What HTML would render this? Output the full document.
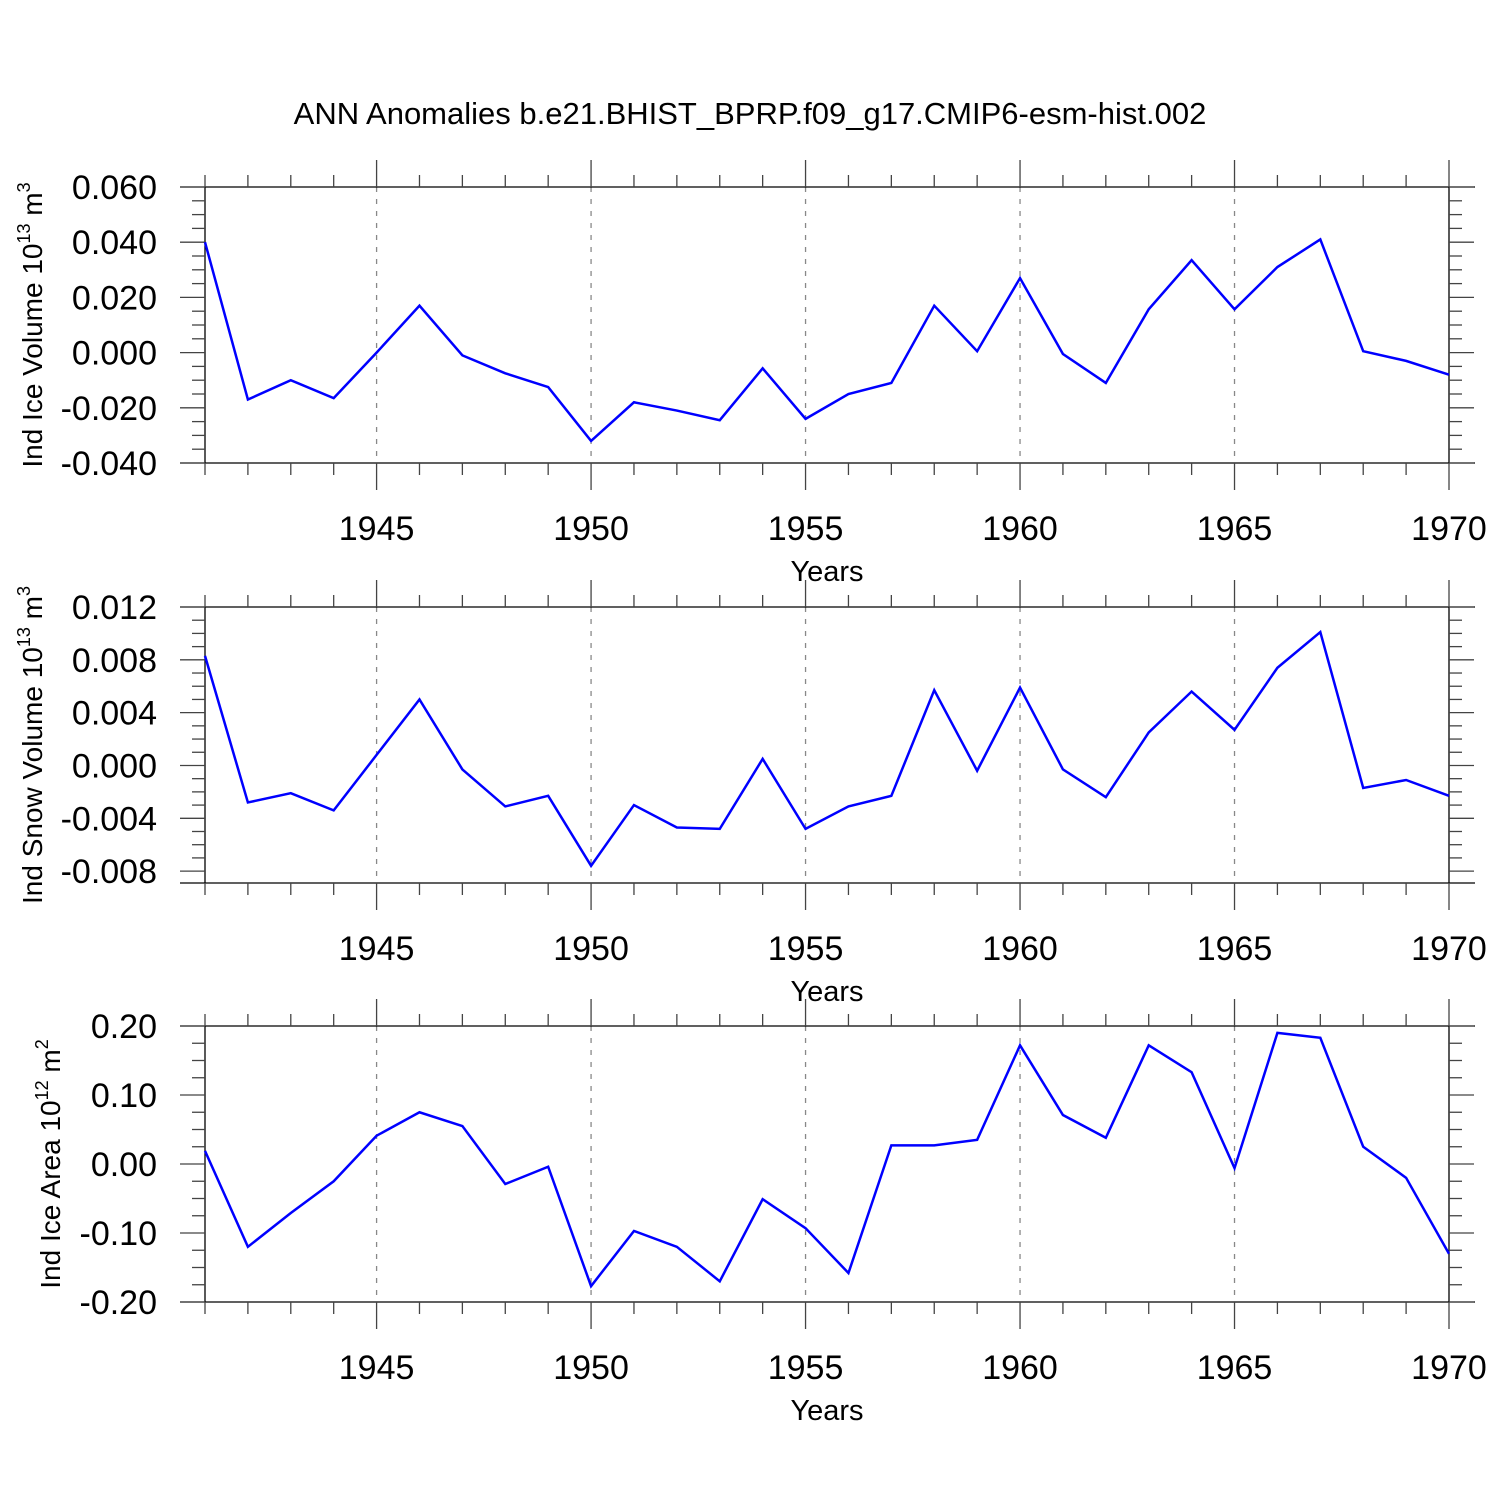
<!DOCTYPE html>
<html><head><meta charset="utf-8"><style>
body{margin:0;background:#fff}
svg{display:block;font-family:"Liberation Sans",sans-serif}
</style></head><body>
<svg id="c" width="1500" height="1500" viewBox="0 0 1500 1500">
<text x="750" y="124" text-anchor="middle" font-size="31">ANN Anomalies b.e21.BHIST_BPRP.f09_g17.CMIP6-esm-hist.002</text>
</svg>
<script>
const years=[];for(let y=1941;y<=1970;y++)years.push(y);
const iceVol=[0.040,-0.017,-0.010,-0.0165,0.000,0.017,-0.001,-0.0075,-0.0125,-0.032,-0.018,-0.021,-0.0245,-0.0057,-0.024,-0.015,-0.011,0.017,0.0005,0.027,-0.0005,-0.011,0.0157,0.0335,0.0157,0.031,0.041,0.0005,-0.003,-0.008];
const snowVol=[0.0083,-0.0028,-0.0021,-0.0034,0.0008,0.005,-0.0003,-0.0031,-0.0023,-0.0076,-0.003,-0.0047,-0.0048,0.0005,-0.0048,-0.0031,-0.0023,0.0057,-0.0004,0.0059,-0.0003,-0.0024,0.0025,0.0056,0.0027,0.0074,0.0101,-0.0017,-0.0011,-0.0023];
const iceArea=[0.019,-0.12,-0.071,-0.025,0.041,0.075,0.055,-0.029,-0.004,-0.177,-0.097,-0.12,-0.17,-0.051,-0.093,-0.158,0.027,0.027,0.035,0.172,0.071,0.038,0.172,0.133,-0.006,0.19,0.183,0.025,-0.02,-0.13];
const xTickYears=[1945,1950,1955,1960,1965,1970];
const ticks1=["0.060","0.040","0.020","0.000","-0.020","-0.040"];
const ticks2=["0.012","0.008","0.004","0.000","-0.004","-0.008"];
const ticks3=["0.20","0.10","0.00","-0.10","-0.20"];
const NS="http://www.w3.org/2000/svg",svg=document.getElementById('c');
function mk(t,a,p){const e=document.createElementNS(NS,t);for(const k in a)e.setAttribute(k,a[k]);(p||svg).appendChild(e);return e;}
const X0=205,X1=1449,L=180,R=1475;
const xs=y=>X0+(y-1941)*(X1-X0)/29;
function panel(top,bot,ymax,ymin,major,minor,labels,data,title,exp,unit,name,tx){
  const g=mk('g',{});
  
  
  const ys=v=>top+(ymax-v)*(bot-top)/(ymax-ymin);
  xTickYears.slice(0,5).forEach(yr=>{const l=mk('line',{x1:xs(yr),x2:xs(yr),y1:top,y2:bot,stroke:'#888','stroke-width':1.3,'stroke-dasharray':'5,7'},g);
    });
  const ax={stroke:'#000','stroke-width':1.3};
  mk('line',{x1:L,x2:R,y1:top,y2:top,...ax},g);mk('line',{x1:L,x2:R,y1:bot,y2:bot,...ax},g);
  mk('line',{x1:X0,x2:X0,y1:top,y2:bot,...ax},g);mk('line',{x1:X1,x2:X1,y1:top,y2:bot,...ax},g);
  years.forEach(yr=>{const mj=yr%5==0,len=mj?27:12,x=xs(yr);
    mk('line',{x1:x,x2:x,y1:top,y2:top-len,stroke:'#444','stroke-width':1.3},g);
    mk('line',{x1:x,x2:x,y1:bot,y2:bot+len,stroke:'#444','stroke-width':1.3},g);});
  const n=Math.floor((ymax-ymin)/minor+1e-6);
  for(let i=0;i<=n;i++){const v=ymax-i*minor;const y=ys(v);if(y>bot+0.5)continue;const r=Math.abs(v/major-Math.round(v/major))<1e-6;const len=r?25:13;
    mk('line',{x1:X0,x2:X0-len,y1:y,y2:y,stroke:'#444','stroke-width':1.3},g);
    mk('line',{x1:X1,x2:X1+len,y1:y,y2:y,stroke:'#444','stroke-width':1.3},g);}
  labels.forEach(s=>{const t=mk('text',{x:157,y:ys(parseFloat(s))+12,'text-anchor':'end','font-size':34},g);t.textContent=s;
    });
  xTickYears.forEach(yr=>{const t=mk('text',{x:xs(yr),y:bot+77,'text-anchor':'middle','font-size':34},g);t.textContent=yr;
    });
  const xt=mk('text',{x:827,y:bot+118,'text-anchor':'middle','font-size':29},g);xt.textContent='Years';
  
  const cy=(top+bot)/2;
  const yt=mk('text',{x:0,y:0,'text-anchor':'middle','font-size':28,transform:`translate(${tx},${cy}) rotate(-90)`},g);
  
  const t1=document.createElementNS(NS,'tspan');t1.textContent=title+' 10';yt.appendChild(t1);
  const t2=document.createElementNS(NS,'tspan');t2.setAttribute('font-size','18');t2.setAttribute('dy','-12');t2.textContent=exp;yt.appendChild(t2);
  const t3=document.createElementNS(NS,'tspan');t3.setAttribute('dy','12');t3.textContent=' m';yt.appendChild(t3);
  const t4=document.createElementNS(NS,'tspan');t4.setAttribute('font-size','18');t4.setAttribute('dy','-12');t4.textContent=unit;yt.appendChild(t4);
  const pl=mk('polyline',{points:data.map((v,i)=>xs(years[i])+','+ys(v)).join(' '),fill:'none',stroke:'#0000ff','stroke-width':2.5,'stroke-linejoin':'miter'},g);
  
}
panel(187,463,0.06,-0.04,0.02,0.005,ticks1,iceVol,'Ind Ice Volume','13','3','ice-volume',42);
panel(607,883,0.012,-0.0089,0.004,0.001,ticks2,snowVol,'Ind Snow Volume','13','3','snow-volume',42);
panel(1026,1302,0.2,-0.2,0.1,0.025,ticks3,iceArea,'Ind Ice Area','12','2','ice-area',60);
</script>
</body></html>
